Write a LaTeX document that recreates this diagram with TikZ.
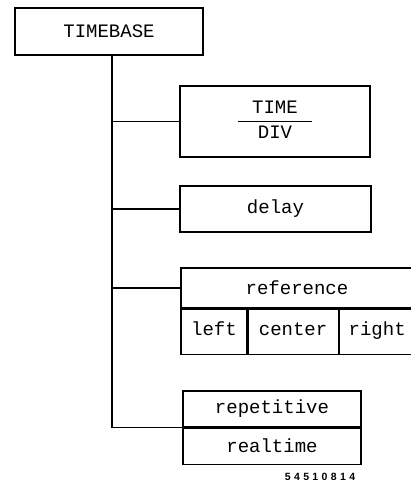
\documentclass[tikz,border=0pt]{standalone}
\usepackage{fontspec}
\newfontfamily\plotfont{Liberation Mono}
\newfontfamily\idfont[LetterSpace=32]{Liberation Sans}
\usetikzlibrary{positioning}
\tikzset{
  box/.style={rectangle, draw=black, line width=1.1pt, fill=white, align=center,
    inner sep=0pt, font=\plotfont\fontsize{19}{22}\selectfont},
  cell/.style={box, minimum height=45pt, text height=12pt, text depth=4pt},
  link/.style={draw=black, line width=1.1pt},
}
\newcommand{\fracbox}[2]{{\setlength\tabcolsep{14pt}\renewcommand\arraystretch{1.05}%
  \begin{tabular}{c}#1\\[1pt]\hline\rule{0pt}{17pt}#2\end{tabular}}}

\begin{document}
\begin{tikzpicture}[x=1pt, y=-1pt]
    \useasboundingbox (0,0) rectangle (410,485);
    \node[box, minimum width=188pt, minimum height=47pt] (timebase) at (109,31.5) {TIMEBASE};
    \node[box, minimum width=190pt, minimum height=71pt] (timediv) at (275,121.5) {\fracbox{TIME}{DIV}};
    \node[box, minimum width=191pt, minimum height=46pt] (delay) at (275.5,209) {delay};
    % reference with its three choices
    \node[box, minimum width=232pt, minimum height=40pt] (reference) at (297,288) {reference};
    \node[cell, minimum width=66pt, anchor=north west] (left) at (reference.south west) {left};
    \node[cell, minimum width=90pt, right=0pt of left] (center) {center};
    \node[cell, minimum width=76pt, right=0pt of center] (right) {right};
    % repetitive / realtime pair
    \node[box, minimum width=178pt, minimum height=36pt] (repetitive) at (272,409) {repetitive};
    \node[box, minimum width=178pt, minimum height=36pt, below=0pt of repetitive] (realtime) {realtime};
    \node[font=\idfont\bfseries\fontsize{10.5}{12}\selectfont] (partno) at (320,477) {54510814};
    % tree connectors
    \coordinate (spine) at (112,0);
    \draw[link] (spine |- timebase.south) |- (repetitive.south west);
    \draw[link] (spine |- timediv.west) -- (timediv.west);
    \draw[link] (spine |- delay.west) -- (delay.west);
    \draw[link] (spine |- reference.west) -- (reference.west);
  \end{tikzpicture}
\end{document}
